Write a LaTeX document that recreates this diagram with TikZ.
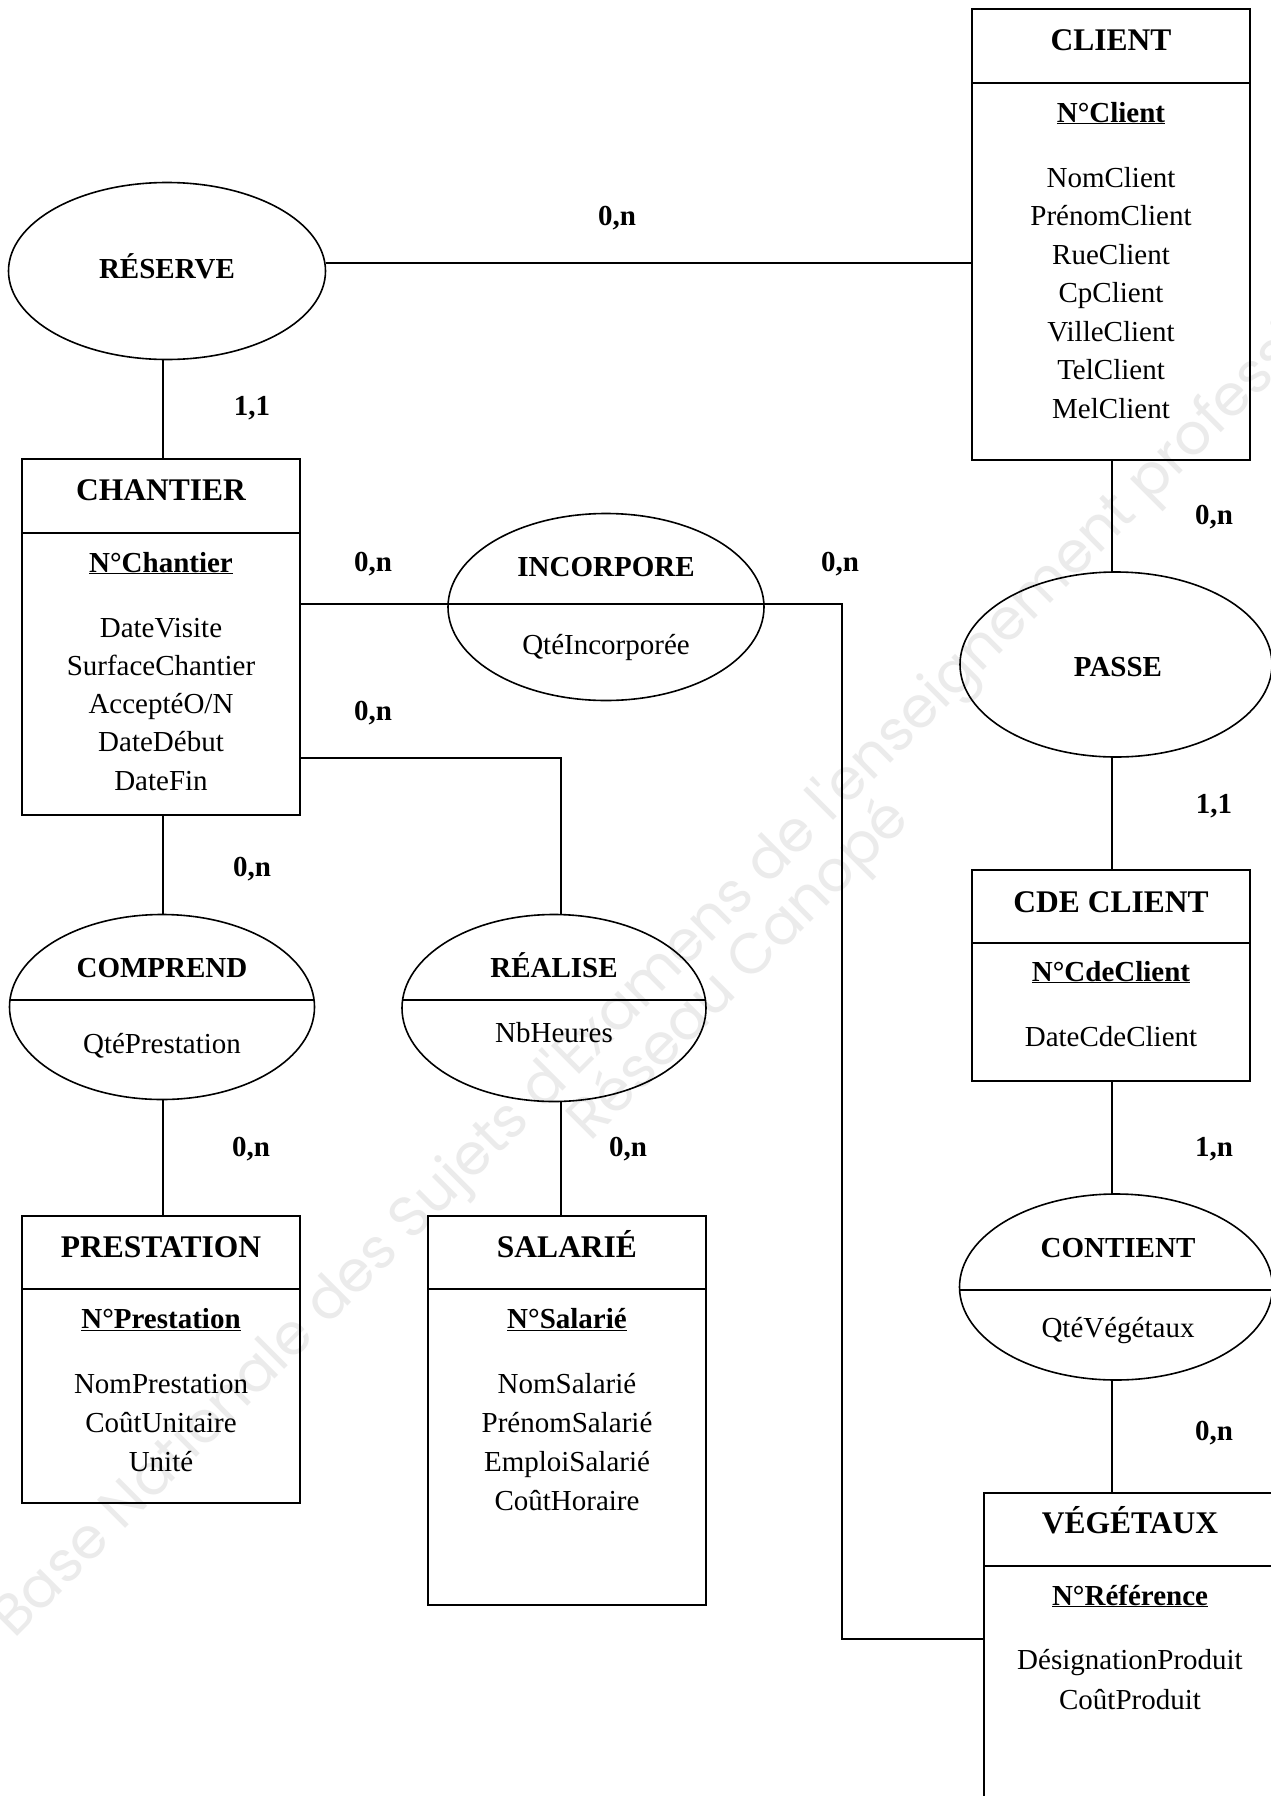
\documentclass[tikz,border=0pt]{standalone}
\usepackage{fontspec}
\setmainfont{Liberation Serif}
\newfontfamily\wmfont{Poppins}
\usetikzlibrary{shapes.geometric}
\tikzset{
  ent/.style={draw, line width=2pt, inner sep=0pt, outer sep=0pt, anchor=north west},
  rel/.style={draw, ellipse, line width=1.6pt, inner sep=0pt, outer sep=0pt},
  lnk/.style={line width=1.8pt},
  dvd/.style={line width=1.8pt},
  ttl/.style={font=\fontsize{31.5}{36}\selectfont\bfseries, anchor=base, inner sep=0pt},
  key/.style={font=\fontsize{29}{34}\selectfont\bfseries, anchor=base, inner sep=0pt},
  att/.style={font=\fontsize{29}{34}\selectfont, anchor=base, inner sep=0pt},
  rname/.style={font=\fontsize{29}{34}\selectfont\bfseries, anchor=base, inner sep=0pt},
  card/.style={font=\fontsize{29}{34}\selectfont\bfseries, anchor=base, inner sep=0pt},
  wmk/.style={font=\fontsize{57}{64}\wmfont, text=black!8, anchor=base west, inner sep=0pt, rotate=45},
}
\begin{document}
\begin{tikzpicture}[x=1pt,y=-1pt]
\clip (0,0) rectangle (1271,1796);
\fill[white] (0,0) rectangle (1271,1796);
% watermark
\node[wmk] (wm1) at (14,1640) {Base Nationale des Sujets d'Examens de l'enseignement professionnel};
\node[wmk] (wm2) at (590,1143) {Réseau Canopé};

% ---------- entities ----------
\node[ent, minimum width=278pt, minimum height=451pt] (client) at (972,9) {};
\draw[dvd] (972,83) -- (1250,83);
\node[ttl] (tclient) at (1111,50) {CLIENT};
\node[key] (kclient) at (1111,122) {\underline{N°Client}};
\node[att] (a1) at (1111,187) {NomClient};
\node[att] (a2) at (1111,225.5) {PrénomClient};
\node[att] (a3) at (1111,264) {RueClient};
\node[att] (a4) at (1111,302.5) {CpClient};
\node[att] (a5) at (1111,341) {VilleClient};
\node[att] (a6) at (1111,379.5) {TelClient};
\node[att] (a7) at (1111,418) {MelClient};

\node[ent, minimum width=278pt, minimum height=356pt] (chantier) at (22,459) {};
\draw[dvd] (22,533) -- (300,533);
\node[ttl] (tchantier) at (161,500) {CHANTIER};
\node[key] (kchantier) at (161,572) {\underline{N°Chantier}};
\node[att] (b1) at (161,637) {DateVisite};
\node[att] (b2) at (161,675.3) {SurfaceChantier};
\node[att] (b3) at (161,713.6) {AcceptéO/N};
\node[att] (b4) at (161,751.9) {DateDébut};
\node[att] (b5) at (161,790.2) {DateFin};

\node[ent, minimum width=278pt, minimum height=211pt] (cde) at (972,870) {};
\draw[dvd] (972,943) -- (1250,943);
\node[ttl] (tcde) at (1111,912) {CDE CLIENT};
\node[key] (kcde) at (1111,981) {\underline{N°CdeClient}};
\node[att] (c1) at (1111,1046) {DateCdeClient};

\node[ent, minimum width=278pt, minimum height=287pt] (prest) at (22,1216) {};
\draw[dvd] (22,1289) -- (300,1289);
\node[ttl] (tprest) at (161,1257) {PRESTATION};
\node[key] (kprest) at (161,1328) {\underline{N°Prestation}};
\node[att] (d1) at (161,1393) {NomPrestation};
\node[att] (d2) at (161,1432) {CoûtUnitaire};
\node[att] (d3) at (161,1471) {Unité};

\node[ent, minimum width=278pt, minimum height=389pt] (salarie) at (428,1216) {};
\draw[dvd] (428,1289) -- (706,1289);
\node[ttl] (tsal) at (567,1257) {SALARIÉ};
\node[key] (ksal) at (567,1328) {\underline{N°Salarié}};
\node[att] (e1) at (567,1393) {NomSalarié};
\node[att] (e2) at (567,1432) {PrénomSalarié};
\node[att] (e3) at (567,1471) {EmploiSalarié};
\node[att] (e4) at (567,1510) {CoûtHoraire};

\node[ent, minimum width=292pt, minimum height=330pt] (veg) at (984,1493) {};
\draw[dvd] (984,1566) -- (1276,1566);
\node[ttl] (tveg) at (1130,1533) {VÉGÉTAUX};
\node[key] (kveg) at (1130,1605) {\underline{N°Référence}};
\node[att] (f1) at (1130,1669) {DésignationProduit};
\node[att] (f2) at (1130,1709) {CoûtProduit};

% ---------- relations ----------
\node[rel, minimum width=317pt, minimum height=177pt] (reserve) at (167,271) {};
\node[rname] (treserve) at (167,278) {RÉSERVE};

\node[rel, minimum width=316pt, minimum height=187pt] (incorp) at (606,607) {};
\node[rname] (tincorp) at (606,576) {INCORPORE};
\node[att] (aincorp) at (606,654) {QtéIncorporée};

\node[rel, minimum width=305pt, minimum height=185pt] (comprend) at (162,1007) {};
\draw[dvd] (9.8,1000) -- (314.2,1000);
\node[rname] (tcomprend) at (162,977) {COMPREND};
\node[att] (acomprend) at (162,1053) {QtéPrestation};

\node[rel, minimum width=304pt, minimum height=187pt] (realise) at (554,1008) {};
\draw[dvd] (402.3,1000) -- (705.7,1000);
\node[rname] (trealise) at (554,977) {RÉALISE};
\node[att] (arealise) at (554,1042) {NbHeures};

\node[rel, minimum width=312pt, minimum height=185pt] (passe) at (1116,664.5) {};
\node[rname] (tpasse) at (1118,676) {PASSE};

\node[rel, minimum width=313pt, minimum height=186pt] (contient) at (1116,1287) {};
\draw[dvd] (959.7,1290) -- (1272.3,1290);
\node[rname] (tcontient) at (1118,1257) {CONTIENT};
\node[att] (acontient) at (1118,1337) {QtéVégétaux};

% ---------- connectors ----------
\coordinate (rc) at (0,263);
\draw[lnk] (reserve.east |- rc) -- (client.west |- rc);
\coordinate (rx) at (163,0);
\draw[lnk] (rx |- reserve.south) -- (rx |- chantier.north);
\draw[lnk] (rx |- chantier.south) -- (rx |- comprend.north);
\draw[lnk] (rx |- comprend.south) -- (rx |- prest.north);

\coordinate (i1) at (842,604);
\coordinate (i2) at (842,1639);
\draw[lnk] (chantier.east |- i1) -- (i1) -- (i2) -- (veg.west |- i2);

\coordinate (r1) at (561,758);
\draw[lnk] (chantier.east |- r1) -- (r1) -- (r1 |- realise.north);
\draw[lnk] (r1 |- realise.south) -- (r1 |- salarie.north);

\coordinate (cx) at (1112,0);
\draw[lnk] (cx |- client.south) -- (cx |- passe.north);
\draw[lnk] (cx |- passe.south) -- (cx |- cde.north);
\draw[lnk] (cx |- cde.south) -- (cx |- contient.north);
\draw[lnk] (cx |- contient.south) -- (cx |- veg.north);

% ---------- cardinalities ----------
\node[card] (k1) at (617,225) {0,n};
\node[card] (k2) at (252,415) {1,1};
\node[card] (k3) at (373,571) {0,n};
\node[card] (k4) at (840,571) {0,n};
\node[card] (k5) at (373,720) {0,n};
\node[card] (k6) at (252,876) {0,n};
\node[card] (k7) at (251,1156) {0,n};
\node[card] (k8) at (628,1156) {0,n};
\node[card] (k9) at (1214,524) {0,n};
\node[card] (k10) at (1214,813) {1,1};
\node[card] (k11) at (1214,1156) {1,n};
\node[card] (k12) at (1214,1440) {0,n};
\end{tikzpicture}
\end{document}
